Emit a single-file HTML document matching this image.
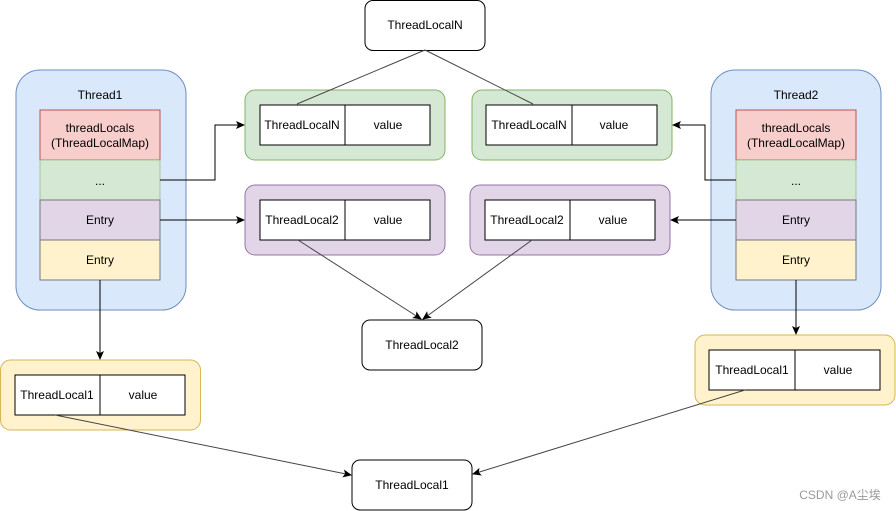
<!DOCTYPE html>
<html><head><style>body{margin:0;background:#fff}svg{display:block}text{font-family:"Liberation Sans","Noto Sans CJK SC",sans-serif;font-size:12px;fill:#000;text-anchor:middle;dominant-baseline:middle}</style></head><body>
<svg width="896" height="511" viewBox="0 0 896 511">
<defs><marker id="a" markerWidth="10" markerHeight="10" refX="8" refY="4" orient="auto" markerUnits="userSpaceOnUse"><path d="M0,0 L9,4 L0,8 L2,4z" fill="#000"/></marker></defs>
<!-- Thread1 -->
<rect x="16" y="70" width="170" height="240" rx="24" fill="#dae8fc" stroke="#6c8ebf"/>
<g transform="translate(0,1)">
<text x="100" y="95">Thread1</text>
</g>
<rect x="40" y="110" width="120" height="50" fill="#f8cecc" stroke="#b85450"/>
<rect x="40" y="160" width="120" height="40" fill="#d5e8d4" stroke="#82b366" stroke-opacity=".6"/>
<rect x="40" y="200" width="120" height="40" fill="#e1d5e7" stroke="#777"/>
<rect x="40" y="240" width="120" height="40" fill="#fff2cc" stroke="#777"/>
<!-- Thread2 -->
<rect x="711" y="70" width="170" height="240" rx="24" fill="#dae8fc" stroke="#6c8ebf"/>
<rect x="736" y="110" width="120" height="50" fill="#f8cecc" stroke="#b85450"/>
<rect x="736" y="160" width="120" height="40" fill="#d5e8d4" stroke="#82b366" stroke-opacity=".6"/>
<rect x="736" y="200" width="120" height="40" fill="#e1d5e7" stroke="#777"/>
<rect x="736" y="240" width="120" height="40" fill="#fff2cc" stroke="#777"/>
<!-- groups -->
<rect x="245" y="90" width="200" height="70" rx="10" fill="#d5e8d4" stroke="#82b366"/>
<rect x="260" y="105" width="170" height="40" fill="#fff" stroke="#000"/><line x1="345" y1="105" x2="345" y2="145" stroke="#000"/>
<rect x="472" y="90" width="200" height="70" rx="10" fill="#d5e8d4" stroke="#82b366"/>
<rect x="486" y="105" width="171" height="40" fill="#fff" stroke="#000"/><line x1="572" y1="105" x2="572" y2="145" stroke="#000"/>
<rect x="245" y="185" width="200" height="70" rx="10" fill="#e1d5e7" stroke="#9673a6"/>
<rect x="260" y="200" width="170" height="40" fill="#fff" stroke="#000"/><line x1="345" y1="200" x2="345" y2="240" stroke="#000"/>
<rect x="470" y="185" width="200" height="70" rx="10" fill="#e1d5e7" stroke="#9673a6"/>
<rect x="485" y="200" width="170" height="40" fill="#fff" stroke="#000"/><line x1="570" y1="200" x2="570" y2="240" stroke="#000"/>
<rect x="0.5" y="360" width="200" height="70" rx="10" fill="#fff2cc" stroke="#d6b656"/>
<rect x="15" y="375" width="170" height="40" fill="#fff" stroke="#000"/><line x1="100" y1="375" x2="100" y2="415" stroke="#000"/>
<rect x="695" y="335" width="200" height="70" rx="10" fill="#fff2cc" stroke="#d6b656"/>
<rect x="709" y="350" width="171" height="40" fill="#fff" stroke="#000"/><line x1="795" y1="350" x2="795" y2="390" stroke="#000"/>
<!-- key boxes -->
<rect x="365" y="0.5" width="120" height="50" rx="8" fill="#fff" stroke="#000"/>
<rect x="362" y="320" width="120" height="50" rx="8" fill="#fff" stroke="#000"/>
<rect x="352" y="460" width="120" height="50" rx="8" fill="#fff" stroke="#000"/>
<!-- connectors -->
<g stroke="#444" fill="none">
<line x1="425" y1="50" x2="297" y2="104"/><line x1="425" y1="50" x2="533" y2="104"/>
<line x1="298" y1="240" x2="421" y2="319" marker-end="url(#a)"/><line x1="532" y1="240" x2="423" y2="319" marker-end="url(#a)"/>
<line x1="55" y1="415" x2="351" y2="475" marker-end="url(#a)"/><line x1="745" y1="390" x2="473" y2="474" marker-end="url(#a)"/>
</g>
<g stroke="#000" fill="none">
<path d="M160,180 H215 V125 H244" marker-end="url(#a)"/>
<path d="M160,220 H244" marker-end="url(#a)"/>
<path d="M100,280 V359" marker-end="url(#a)"/>
<path d="M736,180 H705 V125 H673" marker-end="url(#a)"/>
<path d="M736,220 H671" marker-end="url(#a)"/>
<path d="M796,280 V334" marker-end="url(#a)"/>
</g>
<g transform="translate(0,1)">
<text x="100" y="128">threadLocals</text><text x="100" y="143">(ThreadLocalMap)</text>
<text x="100" y="181">...</text><text x="100" y="220">Entry</text><text x="100" y="260">Entry</text>
<text x="796" y="95">Thread2</text>
<text x="796" y="128">threadLocals</text><text x="796" y="143">(ThreadLocalMap)</text>
<text x="796" y="181">...</text><text x="796" y="220">Entry</text><text x="796" y="260">Entry</text>
<text x="302" y="125">ThreadLocalN</text><text x="388" y="125">value</text>
<text x="529" y="125">ThreadLocalN</text><text x="614" y="125">value</text>
<text x="302" y="220">ThreadLocal2</text><text x="388" y="220">value</text>
<text x="527" y="220">ThreadLocal2</text><text x="613" y="220">value</text>
<text x="57" y="395">ThreadLocal1</text><text x="143" y="395">value</text>
<text x="752" y="370">ThreadLocal1</text><text x="838" y="370">value</text>
<text x="425" y="25">ThreadLocalN</text>
<text x="422" y="345">ThreadLocal2</text>
<text x="412" y="485">ThreadLocal1</text>
<text x="840" y="495" style="fill:#999;font-size:12px">CSDN @A尘埃</text>
</g>
</svg></body></html>
